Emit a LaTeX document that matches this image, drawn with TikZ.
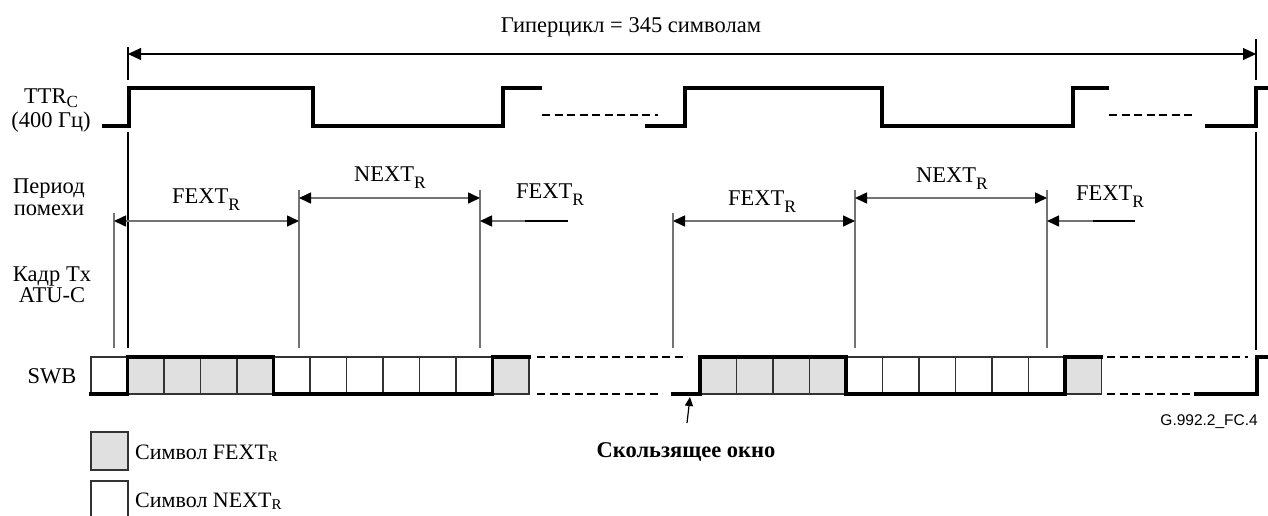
\documentclass[tikz,border=0pt]{standalone}
\usepackage{fontspec}
\setmainfont{Liberation Serif}
\newfontfamily\arialfont{Liberation Sans}
\usetikzlibrary{arrows.meta}
\newcommand\sbs[3]{\raisebox{-#1pt}{\fontsize{#2}{#2}\selectfont #3}}
\begin{document}
\begin{tikzpicture}[x=1pt,y=-1pt,
  lbl/.style={font=\fontsize{22.5}{24}\selectfont, inner sep=0pt, anchor=base},
  lgd/.style={font=\fontsize{22}{24}\selectfont, inner sep=0pt, anchor=base west},
  sig/.style={line width=3.5pt, line join=miter, line cap=rect},
  dsh/.style={line width=2pt, dash pattern=on 8pt off 4.5pt},
  guide/.style={draw=black!55, line width=1.3pt},
  tick/.style={draw=black, line width=1.2pt},
  dim/.style={draw=black!55, line width=1.6pt},
  dimboth/.style={dim, {Triangle[length=12pt,width=11pt,color=black]}-{Triangle[length=12pt,width=11pt,color=black]}},
  dimleft/.style={dim, {Triangle[length=12pt,width=11pt,color=black]}-},
  cellg/.style={draw=black!80, line width=1.4pt, fill=black!12},
  cellw/.style={draw=black!80, line width=1.4pt, fill=white}
]
\useasboundingbox (0,0) rectangle (1268,515);

% ---------- title and hypercycle arrow ----------
\node[lbl] (title) at (631,32) {Гиперцикл = 345 символам};
\coordinate (hL) at (128,54);
\coordinate (hR) at (1256,54);
\draw[tick] (128,47) -- (128,80);
\draw[tick] (1256,39) -- (1256,80);
\draw[line width=1.2pt, {Triangle[length=13pt,width=12pt]}-{Triangle[length=13pt,width=12pt]}] (hL) -- (hR);

% ---------- left labels ----------
\node[lbl] (ttr1) at (51,103) {TTR\sbs{4}{17}{C}};
\node[lbl] (ttr2) at (51,127) {(400 Гц)};
\node[lbl] (per1) at (49,193) {Период};
\node[lbl] (per2) at (49,215) {помехи};
\node[lbl] (kad1) at (52,281) {Кадр Tx};
\node[lbl] (kad2) at (52,302) {ATU-C};
\node[lbl] (swb) at (52,383) {SWB};

% ---------- TTR_C signal ----------
\draw[sig] (104,126) -- (129,126) -- (129,88) -- (313,88) -- (313,126) -- (503,126) -- (503,88) -- (540,88);
\draw[dsh] (542,115) -- (658,115);
\draw[sig] (647,126) -- (685,126) -- (685,88) -- (882,88) -- (882,126) -- (1073,126) -- (1073,88) -- (1107,88);
\draw[dsh] (1109,115) -- (1192,115);
\draw[sig] (1207,126) -- (1256,126) -- (1256,88) -- (1266,88);

% ---------- vertical guides ----------
\draw[tick]  (128,132) -- (128,348);
\draw[tick]  (1256,132) -- (1256,350);
\draw[guide] (114,213) -- (114,348);
\draw[guide] (299,190) -- (299,348);
\draw[guide] (480,190) -- (480,348);
\draw[guide] (673,213) -- (673,348);
\draw[guide] (855,190) -- (855,348);
\draw[guide] (1047,190) -- (1047,348);

% ---------- interference period arrows ----------
\coordinate (fa1) at (114,221);  \coordinate (fb1) at (299,221);
\coordinate (na1) at (299,198);  \coordinate (nb1) at (480,198);
\coordinate (fc1) at (480,221);  \coordinate (fd1) at (568,221);
\coordinate (fa2) at (673,221);  \coordinate (fb2) at (855,221);
\coordinate (na2) at (855,198);  \coordinate (nb2) at (1047,198);
\coordinate (fc2) at (1047,221); \coordinate (fd2) at (1135,221);

\draw[dimboth] (fa1) -- (fb1);
\draw[dimboth] (na1) -- (nb1);
\draw[dimleft] (fc1) -- (fd1);
\draw[line width=1.3pt] (525,221) -- (fd1);
\draw[dimboth] (fa2) -- (fb2);
\draw[dimboth] (na2) -- (nb2);
\draw[dimleft] (fc2) -- (fd2);
\draw[line width=1.3pt] (1093,221) -- (fd2);

\node[lbl] (lf1) at (206,203) {FEXT\sbs{7}{17.5}{R}};
\node[lbl] (ln1) at (390,181) {NEXT\sbs{7}{17.5}{R}};
\node[lbl] (lf2) at (550,198) {FEXT\sbs{7}{17.5}{R}};
\node[lbl] (lf3) at (762,205) {FEXT\sbs{7}{17.5}{R}};
\node[lbl] (ln2) at (952,182) {NEXT\sbs{7}{17.5}{R}};
\node[lbl] (lf4) at (1110,200) {FEXT\sbs{7}{17.5}{R}};

% ---------- SWB cells ----------
\foreach \i/\s in {0/cellw,1/cellg,2/cellg,3/cellg,4/cellg,5/cellw,6/cellw,7/cellw,8/cellw,9/cellw,10/cellw,11/cellg}
  \draw[\s] ({91+36.5*\i},357) rectangle ({91+36.5*(\i+1)},394);
\foreach \i/\s in {0/cellg,1/cellg,2/cellg,3/cellg,4/cellw,5/cellw,6/cellw,7/cellw,8/cellw,9/cellw,10/cellg}
  \draw[\s] ({700+36.5*\i},357) rectangle ({700+36.5*(\i+1)},394);

\draw[sig] (91,394) -- (127.5,394) -- (127.5,357) -- (273.5,357) -- (273.5,394) -- (492.5,394) -- (492.5,357) -- (529,357);
\draw[dsh] (537,357) -- (687,357);
\draw[dsh] (537,394) -- (662,394);
\draw[sig] (673,394) -- (700,394) -- (700,357) -- (846,357) -- (846,394) -- (1065,394) -- (1065,357) -- (1101.5,357);
\draw[dsh] (1107,357) -- (1248,357);
\draw[dsh] (1107,394) -- (1193,394);
\draw[sig] (1196,394) -- (1257,394) -- (1257,357) -- (1268,357);

% ---------- sliding window ----------
\node[font=\fontsize{22.5}{24}\selectfont\bfseries, inner sep=0pt, anchor=base] (slide) at (686,457) {Скользящее окно};
\coordinate (sw) at (690,397);
\draw[line width=1.2pt, -{Triangle[length=9pt,width=8pt]}] (687,423) -- (sw);

\node[font=\arialfont\fontsize{15.5}{16}\selectfont, inner sep=0pt, anchor=base east] (code) at (1258,425) {G.992.2\_FC.4};

% ---------- legend ----------
\draw[cellg] (91,432) rectangle (128,470);
\draw[cellw] (91,481) rectangle (128,520);
\node[lgd] (lg1) at (135,459) {Символ FEXT\sbs{2}{15}{R}};
\node[lgd] (lg2) at (135,507) {Символ NEXT\sbs{2}{15}{R}};
\end{tikzpicture}
\end{document}
